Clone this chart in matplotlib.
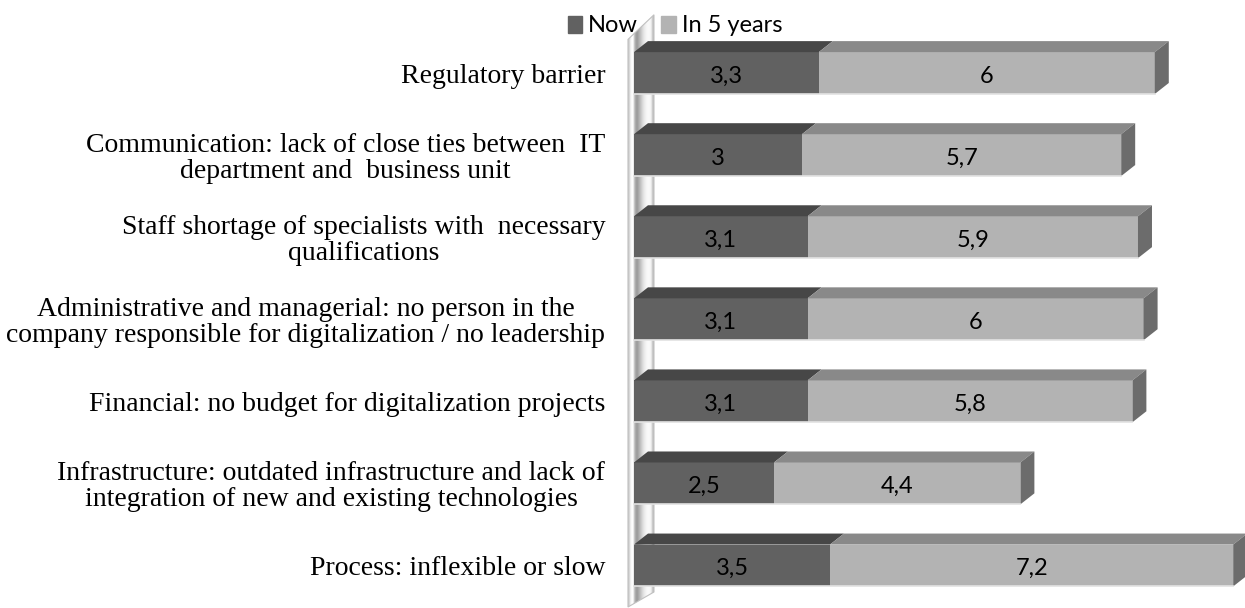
import matplotlib
matplotlib.use('Agg')
import matplotlib.pyplot as plt
from matplotlib.patches import Polygon, Patch
from matplotlib.transforms import ScaledTranslation
import numpy as np

# данные (снизу вверх)
categories = [
    'Process: inflexible or slow',
    'Infrastructure: outdated infrastructure and lack of\nintegration of new and existing technologies',
    'Financial: no budget for digitalization projects',
    'Administrative and managerial: no person in the\ncompany responsible for digitalization / no leadership',
    'Staff shortage of specialists with  necessary\nqualifications',
    'Communication: lack of close ties between  IT\ndepartment and  business unit',
    'Regulatory barrier',
]
now = [3.5, 2.5, 3.1, 3.1, 3.1, 3.0, 3.3]
in5 = [7.2, 4.4, 5.8, 6.0, 5.9, 5.7, 6.0]
series_names = ['Now', 'In 5 years']

# цвета граней
now_front, now_top = '#616161', '#474747'
in5_front, in5_top, in5_side = '#b3b3b3', '#898989', '#6c6c6c'

H = 0.51     # высота бара
DX = 0.25    # глубина по x
DY = 0.134   # глубина по y


def fmt(v):
    return ('%g' % v).replace('.', ',')


fig = plt.figure(figsize=(12.45, 6.08), dpi=100)
ax = fig.add_axes([615 / 1245, 0, 630 / 1245, 1])
ax.set_xlim(-0.339, 10.911)
ax.set_ylim(-0.518, 6.89)

pos = np.arange(len(categories))
down = ScaledTranslation(0, -3 / 100, fig.dpi_scale_trans)  # сдвиг текста вниз на 3 px

# стенка слева (градиент)
wx0, wx1 = -0.107, 0.357
wall = Polygon([(wx0, -0.506), (wx0, 6.41), (wx1, 6.71), (wx1, -0.323)],
               closed=True, facecolor='none', edgecolor='#c0c0c0', lw=0.8, zorder=1)
ax.add_patch(wall)
grad = np.array([[0.80, 0.97, 1.0, 0.70, 0.60, 0.68, 0.78, 0.87, 0.93, 0.97, 0.98, 0.95, 0.74]])
im = ax.imshow(grad, cmap='gray', vmin=0, vmax=1, aspect='auto',
               extent=(wx0, wx1, -0.6, 6.8), zorder=0.5, interpolation='bilinear')
im.set_clip_path(wall)

# фронтальные грани
ax.barh(pos, now, height=H, color=now_front, zorder=2, label=series_names[0])
ax.barh(pos, in5, left=now, height=H, color=in5_front, zorder=2, label=series_names[1])

# верхние и боковые грани + подписи
for y, a, b in zip(pos, now, in5):
    yt = y + H / 2
    yb = y - H / 2
    tot = a + b
    ax.add_patch(Polygon([(0, yt), (a, yt), (a + DX, yt + DY), (DX, yt + DY)],
                         closed=True, facecolor=now_top, edgecolor='none', zorder=2))
    ax.add_patch(Polygon([(a, yt), (tot, yt), (tot + DX, yt + DY), (a + DX, yt + DY)],
                         closed=True, facecolor=in5_top, edgecolor='none', zorder=2))
    ax.add_patch(Polygon([(tot, yb), (tot, yt), (tot + DX, yt + DY), (tot + DX, yb + DY)],
                         closed=True, facecolor=in5_side, edgecolor='none', zorder=2))
    ax.plot([0, tot], [yb, yb], color='#e2e2e2', lw=1.2, zorder=2)
    for xc, v in ((a / 2, a), (a + b / 2, b)):
        ax.text(xc, y, fmt(v), ha='center', va='center', fontsize=17, family='Lato',
                color='black', zorder=3, transform=ax.transData + down)

ax.set_yticks(pos)
ax.set_yticklabels(categories, family='Liberation Serif', fontsize=20,
                   multialignment='center', linespacing=1.04)
for lab in ax.get_yticklabels():
    lab.set_transform(lab.get_transform() + down)
ax.tick_params(axis='y', length=0, pad=7)
ax.set_xticks([])
for s in ax.spines.values():
    s.set_visible(False)

handles = [Patch(color=now_front), Patch(color=in5_front)]
fig.legend(handles, series_names, loc='center', bbox_to_anchor=(675 / 1245, 1 - 26 / 608),
           ncol=2, frameon=False, handlelength=0.6, handleheight=0.7, handletextpad=0.25,
           columnspacing=1.0, prop={'family': 'Lato', 'size': 17})

plt.savefig('out.png', dpi=100)
